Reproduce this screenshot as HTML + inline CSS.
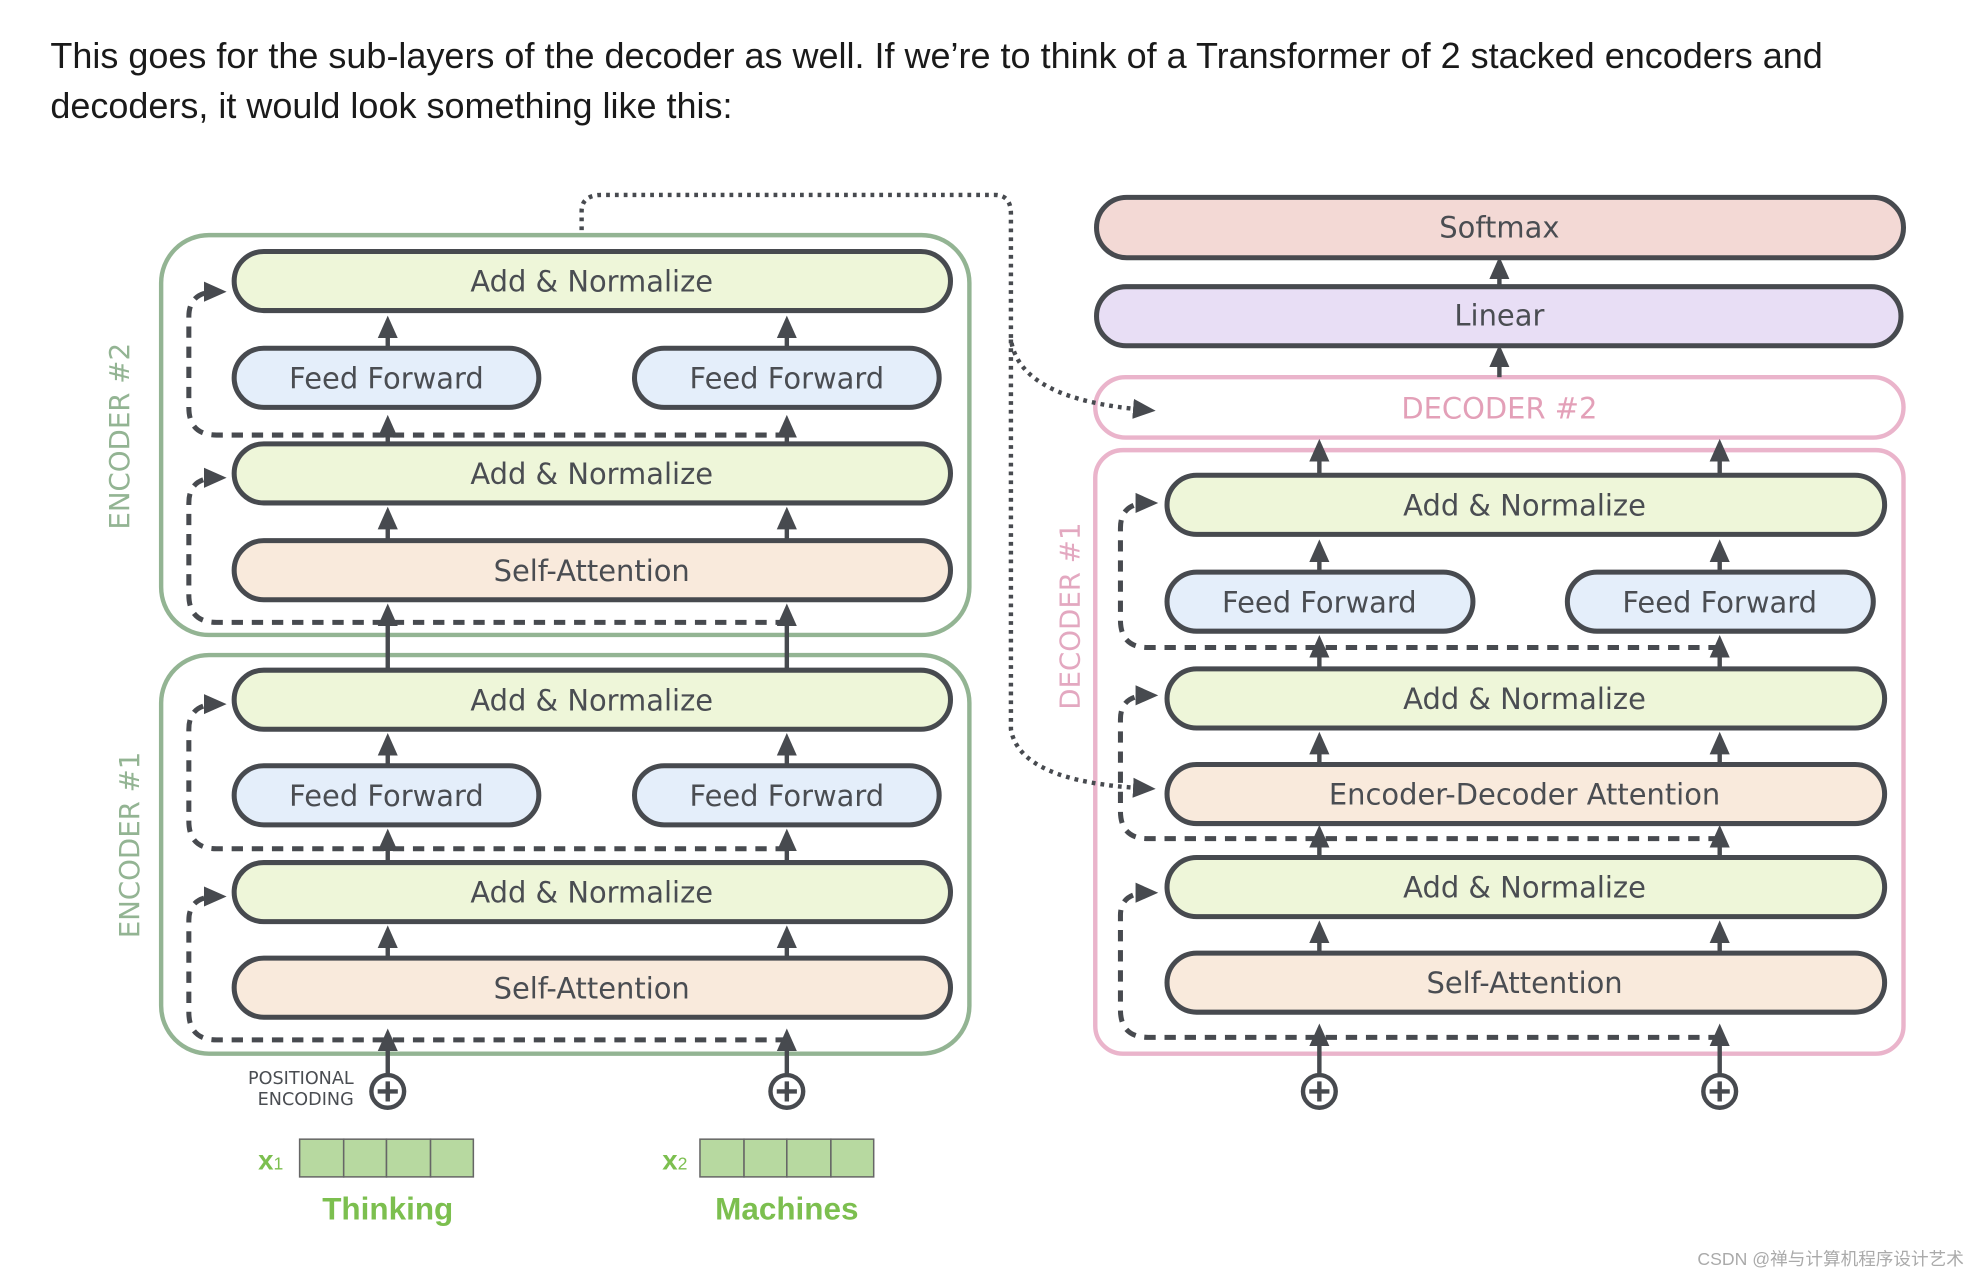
<!DOCTYPE html>
<html><head><meta charset="utf-8"><style>
html,body{margin:0;padding:0;background:#fff;}
svg{display:block}
.t{font-family:"DejaVu Sans","Liberation Sans",sans-serif;font-size:23px;fill:#4a4d52;text-anchor:middle;dominant-baseline:central}
.p{stroke:#474a4f;stroke-width:4}
.a{stroke:#474a4f;stroke-width:3.5;fill:none}
.d{stroke:#474a4f;stroke-width:4;fill:none;stroke-dasharray:9 7}
.o{stroke:#474a4f;stroke-width:3.5;fill:none;stroke-dasharray:3 4}
</style></head><body>
<svg width="1974" height="1280" viewBox="0 0 1568 1018" preserveAspectRatio="none" xmlns="http://www.w3.org/2000/svg">
<defs>
<marker id="ah" markerUnits="userSpaceOnUse" markerWidth="20" markerHeight="20" refX="10" refY="10" orient="auto">
<path d="M0,2 L18,10 L0,18 Z" fill="#474a4f"/></marker>
</defs>
<text x="40" y="54" style="font-family:'Liberation Sans',sans-serif;font-size:28.6px;fill:#1a1a1a">This goes for the sub-layers of the decoder as well. If we’re to think of a Transformer of 2 stacked encoders and</text>
<text x="40" y="94" style="font-family:'Liberation Sans',sans-serif;font-size:28.6px;fill:#1a1a1a">decoders, it would look something like this:</text>

<!-- encoder boxes -->
<rect x="128" y="187" width="642" height="318" rx="38" fill="none" stroke="#93b493" stroke-width="3.5"/>
<rect x="128" y="521" width="642" height="317" rx="38" fill="none" stroke="#93b493" stroke-width="3.5"/>
<text class="t" transform="translate(95,347) rotate(-90)" style="fill:#93b493;font-size:22px">ENCODER #2</text>
<text class="t" transform="translate(103,672) rotate(-90)" style="fill:#93b493;font-size:22px">ENCODER #1</text>

<g>
<line class="a" x1="308" y1="855" x2="308" y2="826" marker-end="url(#ah)"/>
<line class="a" x1="625" y1="855" x2="625" y2="826" marker-end="url(#ah)"/>
</g>

<path class="d" d="M625,827 H172 Q150,827 150,805 V732 Q150,713 172,713" marker-end="url(#ah)"/>
<path class="d" d="M625,675 H172 Q150,675 150,653 V580 Q150,560 172,560" marker-end="url(#ah)"/>
<path class="d" d="M625,495 H172 Q150,495 150,473 V400 Q150,380 172,380" marker-end="url(#ah)"/>
<path class="d" d="M625,346 H172 Q150,346 150,324 V252 Q150,232 172,232" marker-end="url(#ah)"/>

<g>
<line class="a" x1="308" y1="762" x2="308" y2="744" marker-end="url(#ah)"/><line class="a" x1="625" y1="762" x2="625" y2="744" marker-end="url(#ah)"/>
<line class="a" x1="308" y1="686" x2="308" y2="667" marker-end="url(#ah)"/><line class="a" x1="625" y1="686" x2="625" y2="667" marker-end="url(#ah)"/>
<line class="a" x1="308" y1="609" x2="308" y2="591" marker-end="url(#ah)"/><line class="a" x1="625" y1="609" x2="625" y2="591" marker-end="url(#ah)"/>
<line class="a" x1="308" y1="533" x2="308" y2="488" marker-end="url(#ah)"/><line class="a" x1="625" y1="533" x2="625" y2="488" marker-end="url(#ah)"/>
<line class="a" x1="308" y1="430" x2="308" y2="411" marker-end="url(#ah)"/><line class="a" x1="625" y1="430" x2="625" y2="411" marker-end="url(#ah)"/>
<line class="a" x1="308" y1="353" x2="308" y2="338" marker-end="url(#ah)"/><line class="a" x1="625" y1="353" x2="625" y2="338" marker-end="url(#ah)"/>
<line class="a" x1="308" y1="277" x2="308" y2="259" marker-end="url(#ah)"/><line class="a" x1="625" y1="277" x2="625" y2="259" marker-end="url(#ah)"/>
</g>

<g class="p">
<rect x="186" y="200" width="569" height="47" rx="23.5" fill="#eef6d9"/>
<rect x="186" y="277" width="242" height="47" rx="23.5" fill="#e4eefa"/>
<rect x="504" y="277" width="242" height="47" rx="23.5" fill="#e4eefa"/>
<rect x="186" y="353" width="569" height="47" rx="23.5" fill="#eef6d9"/>
<rect x="186" y="430" width="569" height="47" rx="23.5" fill="#f9eadc"/>
<rect x="186" y="533" width="569" height="47" rx="23.5" fill="#eef6d9"/>
<rect x="186" y="609" width="242" height="47" rx="23.5" fill="#e4eefa"/>
<rect x="504" y="609" width="242" height="47" rx="23.5" fill="#e4eefa"/>
<rect x="186" y="686" width="569" height="47" rx="23.5" fill="#eef6d9"/>
<rect x="186" y="762" width="569" height="47" rx="23.5" fill="#f9eadc"/>
</g>
<text class="t" x="470" y="224">Add &amp; Normalize</text>
<text class="t" x="307" y="301">Feed Forward</text>
<text class="t" x="625" y="301">Feed Forward</text>
<text class="t" x="470" y="377">Add &amp; Normalize</text>
<text class="t" x="470" y="454">Self-Attention</text>
<text class="t" x="470" y="557">Add &amp; Normalize</text>
<text class="t" x="307" y="633">Feed Forward</text>
<text class="t" x="625" y="633">Feed Forward</text>
<text class="t" x="470" y="710">Add &amp; Normalize</text>
<text class="t" x="470" y="786">Self-Attention</text>

<g fill="#fff" stroke="#474a4f" stroke-width="3.5">
<circle cx="308" cy="868" r="13"/><circle cx="625" cy="868" r="13"/>
<circle cx="1048" cy="868" r="13"/><circle cx="1366" cy="868" r="13"/>
</g>
<g stroke="#474a4f" stroke-width="3.5">
<path d="M300,868 H316 M308,860 V876"/><path d="M617,868 H633 M625,860 V876"/>
<path d="M1040,868 H1056 M1048,860 V876"/><path d="M1358,868 H1374 M1366,860 V876"/>
</g>
<text x="281" y="862" style="font-family:'DejaVu Sans',sans-serif;font-size:14px;fill:#4a4d52;text-anchor:end">POSITIONAL</text>
<text x="281" y="879" style="font-family:'DejaVu Sans',sans-serif;font-size:14px;fill:#4a4d52;text-anchor:end">ENCODING</text>
<g fill="#b7d9a0" stroke="#666" stroke-width="1.2">
<rect x="238" y="906" width="35" height="30"/><rect x="273" y="906" width="34" height="30"/><rect x="307" y="906" width="35" height="30"/><rect x="342" y="906" width="34" height="30"/>
<rect x="556" y="906" width="35" height="30"/><rect x="591" y="906" width="34" height="30"/><rect x="625" y="906" width="35" height="30"/><rect x="660" y="906" width="34" height="30"/>
</g>
<g style="font-family:'Liberation Sans',sans-serif;font-weight:bold;fill:#7cbf4f">
<text x="205" y="930" font-size="22">x<tspan font-size="14" font-weight="normal">1</tspan></text>
<text x="526" y="930" font-size="22">x<tspan font-size="14" font-weight="normal">2</tspan></text>
<text x="308" y="970" font-size="25" text-anchor="middle">Thinking</text>
<text x="625" y="970" font-size="25" text-anchor="middle">Machines</text>
</g>

<!-- decoder -->
<rect x="870" y="358" width="642" height="480" rx="22" fill="none" stroke="#eab4cb" stroke-width="3.5"/>
<text class="t" transform="translate(850,490) rotate(-90)" style="fill:#e3a8c0;font-size:22px">DECODER #1</text>
<rect x="870" y="300" width="642" height="48" rx="24" fill="#fff" stroke="#eab4cb" stroke-width="3.5"/>
<text class="t" x="1191" y="325" style="fill:#e3a0b8">DECODER #2</text>
<rect x="871" y="228" width="639" height="47" rx="23.5" fill="#e8def5" class="p"/>
<text class="t" x="1191" y="251">Linear</text>
<rect x="871" y="157" width="641" height="48" rx="24" fill="#f3d9d5" class="p"/>
<text class="t" x="1191" y="181">Softmax</text>
<line class="a" x1="1191" y1="228" x2="1191" y2="212" marker-end="url(#ah)"/>
<line class="a" x1="1191" y1="300" x2="1191" y2="282" marker-end="url(#ah)"/>

<!-- dotted connections -->
<path class="o" d="M462,183 V168 Q462,155 478,155 H790 Q803,155 803,170 V270 Q810,318 910,326" marker-end="url(#ah)"/>
<path class="o" d="M803,270 V580 Q810,622 910,627" marker-end="url(#ah)"/>

<path class="d" d="M1366,825 H912 Q890,825 890,803 V728 Q890,710 912,710" marker-end="url(#ah)"/>
<path class="d" d="M1366,667 H912 Q890,667 890,645 V572 Q890,553 912,553" marker-end="url(#ah)"/>
<path class="d" d="M1366,515 H912 Q890,515 890,493 V420 Q890,400 912,400" marker-end="url(#ah)"/>

<g>
<line class="a" x1="1048" y1="855" x2="1048" y2="822" marker-end="url(#ah)"/><line class="a" x1="1366" y1="855" x2="1366" y2="822" marker-end="url(#ah)"/>
<line class="a" x1="1048" y1="758" x2="1048" y2="740" marker-end="url(#ah)"/><line class="a" x1="1366" y1="758" x2="1366" y2="740" marker-end="url(#ah)"/>
<line class="a" x1="1048" y1="682" x2="1048" y2="664" marker-end="url(#ah)"/><line class="a" x1="1366" y1="682" x2="1366" y2="664" marker-end="url(#ah)"/>
<line class="a" x1="1048" y1="608" x2="1048" y2="590" marker-end="url(#ah)"/><line class="a" x1="1366" y1="608" x2="1366" y2="590" marker-end="url(#ah)"/>
<line class="a" x1="1048" y1="532" x2="1048" y2="513" marker-end="url(#ah)"/><line class="a" x1="1366" y1="532" x2="1366" y2="513" marker-end="url(#ah)"/>
<line class="a" x1="1048" y1="455" x2="1048" y2="437" marker-end="url(#ah)"/><line class="a" x1="1366" y1="455" x2="1366" y2="437" marker-end="url(#ah)"/>
<line class="a" x1="1048" y1="378" x2="1048" y2="357" marker-end="url(#ah)"/><line class="a" x1="1366" y1="378" x2="1366" y2="357" marker-end="url(#ah)"/>
</g>
<g class="p">
<rect x="927" y="378" width="570" height="47" rx="23.5" fill="#eef6d9"/>
<rect x="927" y="455" width="243" height="47" rx="23.5" fill="#e4eefa"/>
<rect x="1245" y="455" width="243" height="47" rx="23.5" fill="#e4eefa"/>
<rect x="927" y="532" width="570" height="47" rx="23.5" fill="#eef6d9"/>
<rect x="927" y="608" width="570" height="47" rx="23.5" fill="#f9eadc"/>
<rect x="927" y="682" width="570" height="47" rx="23.5" fill="#eef6d9"/>
<rect x="927" y="758" width="570" height="47" rx="23.5" fill="#f9eadc"/>
</g>
<text class="t" x="1211" y="402">Add &amp; Normalize</text>
<text class="t" x="1048" y="479">Feed Forward</text>
<text class="t" x="1366" y="479">Feed Forward</text>
<text class="t" x="1211" y="556">Add &amp; Normalize</text>
<text class="t" x="1211" y="632">Encoder-Decoder Attention</text>
<text class="t" x="1211" y="706">Add &amp; Normalize</text>
<text class="t" x="1211" y="782">Self-Attention</text>

<text x="1560" y="1006" style="font-family:'Liberation Sans','Noto Sans CJK SC',sans-serif;font-size:14px;fill:#aaa;text-anchor:end">CSDN @禅与计算机程序设计艺术</text>
</svg>
</body></html>
